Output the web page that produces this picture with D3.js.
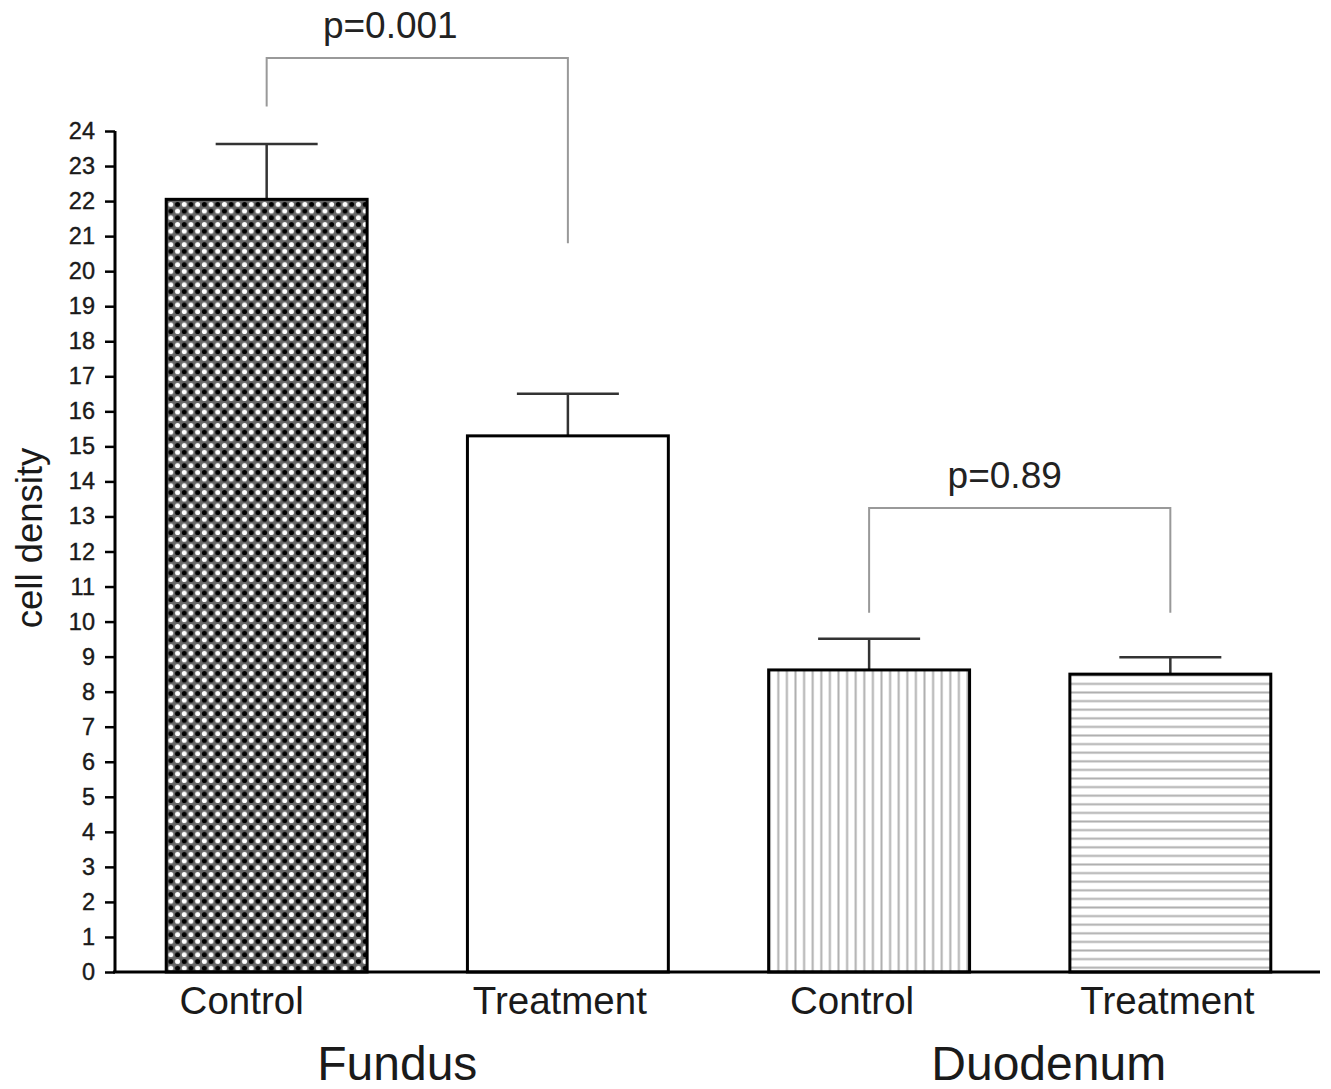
<!DOCTYPE html>
<html>
<head>
<meta charset="utf-8">
<script src="https://cdn.jsdelivr.net/npm/d3@7"></script>
<style>
  html, body { margin: 0; padding: 0; background: #fff; }
  svg { display: block; font-family: "Liberation Sans", Arial, Helvetica, sans-serif; }
</style>
</head>
<body>
<svg id="chart" width="1331" height="1089"></svg>
<script>
// ---- data ----
const barIds = ["Fundus-Control", "Fundus-Treatment", "Duodenum-Control", "Duodenum-Treatment"];
const barLabels = ["Control", "Treatment", "Control", "Treatment"];
const groupNames = ["Fundus", "Duodenum"];
const means = [22.05, 15.3, 8.62, 8.5];
const errors = [1.58, 1.2, 0.89, 0.48];
const patterns = ["checker", "none", "vlines", "hlines"];
const yTicks = d3.range(0, 25, 1);
const pLabels = ["p=0.001", "p=0.89"];
const bracketTop = [26.08, 13.24];
const bracketLeftEnd = [24.7, 10.25];
const bracketRightEnd = [20.8, 10.25];

// ---- layout (label nudges, px) ----
const tickLabelNudge = [-25, -8, -17, -3];
const groupLabelNudge = [-20, 29];
const pLabelNudge = [-27, -15];

const svg = d3.select("#chart");
const x = d3.scaleBand().domain(barIds).range([115, 1322]).paddingInner(0.333).paddingOuter(0.17);
const y = d3.scaleLinear().domain([0, 24]).range([972, 131]);

// ---- patterns ----
const defs = svg.append("defs");
const s = 13.4;
const ck = defs.append("pattern").attr("id", "checker").attr("patternUnits", "userSpaceOnUse")
  .attr("width", s).attr("height", s);
ck.append("rect").attr("width", s).attr("height", s).attr("fill", "#666");
[[s/4, s/4, "#000"], [3*s/4, 3*s/4, "#000"], [3*s/4, s/4, "#fff"], [s/4, 3*s/4, "#fff"]].forEach(([cx, cy, c]) => {
  ck.append("circle").attr("cx", cx).attr("cy", cy).attr("r", 2.5).attr("fill", c);
});
const vs = 8.6;
const vl = defs.append("pattern").attr("id", "vlines").attr("patternUnits", "userSpaceOnUse")
  .attr("width", vs).attr("height", 10);
vl.append("rect").attr("width", vs).attr("height", 10).attr("fill", "#fff");
vl.append("rect").attr("x", vs/2 - 1).attr("width", 2).attr("height", 10).attr("fill", "#b0b0b0");
const hl = defs.append("pattern").attr("id", "hlines").attr("patternUnits", "userSpaceOnUse")
  .attr("width", 10).attr("height", vs).attr("y", y(0));
hl.append("rect").attr("width", 10).attr("height", vs).attr("fill", "#fff");
hl.append("rect").attr("y", vs/2 - 1).attr("height", 2).attr("width", 10).attr("fill", "#b0b0b0");

// ---- error bars ----
const eb = svg.append("g").attr("stroke", "#333").attr("stroke-width", 2.5).attr("fill", "none");
barIds.forEach((id, i) => {
  const cx = x(id) + x.bandwidth() / 2;
  eb.append("line").attr("x1", cx).attr("x2", cx).attr("y1", y(means[i])).attr("y2", y(means[i] + errors[i]));
  eb.append("line").attr("x1", cx - 51).attr("x2", cx + 51).attr("y1", y(means[i] + errors[i])).attr("y2", y(means[i] + errors[i]));
});

// ---- bars ----
svg.append("g").selectAll("rect").data(barIds).join("rect")
  .attr("x", d => x(d))
  .attr("width", x.bandwidth())
  .attr("y", (d, i) => y(means[i]))
  .attr("height", (d, i) => y(0) - y(means[i]))
  .attr("fill", (d, i) => patterns[i] === "none" ? "#fff" : `url(#${patterns[i]})`)
  .attr("stroke", "#000")
  .attr("stroke-width", 3);

// ---- axes ----
const yAxis = svg.append("g").attr("transform", "translate(115,0)")
  .call(d3.axisLeft(y).tickValues(yTicks).tickSize(10).tickPadding(10).tickFormat(d3.format("d")));
yAxis.select(".domain").attr("stroke", "#000").attr("stroke-width", 3).attr("d", `M0,${y(24)}V${y(0)}`);
yAxis.selectAll(".tick line").attr("stroke", "#000").attr("stroke-width", 2.5);
yAxis.selectAll(".tick text").attr("font-size", 23.5).attr("fill", "#1a1a1a")
  .attr("stroke", "#1a1a1a").attr("stroke-width", 0.4)
  .attr("font-family", "Liberation Sans, Arial, sans-serif");

const xAxis = svg.append("g").attr("transform", `translate(0,${y(0)})`)
  .call(d3.axisBottom(x).tickSize(0).tickPadding(14).tickFormat((d, i) => barLabels[i]));
xAxis.select(".domain").attr("stroke", "#000").attr("stroke-width", 3).attr("d", "M113,0H1320");
xAxis.selectAll(".tick text").attr("font-size", 38.5).attr("fill", "#1a1a1a").attr("dy", "0.72em")
  .attr("dx", (d, i) => tickLabelNudge[i])
  .attr("font-family", "Liberation Sans, Arial, sans-serif");

// ---- group labels ----
groupNames.forEach((g, gi) => {
  const c = (x(barIds[gi*2]) + x(barIds[gi*2+1]) + x.bandwidth()) / 2;
  svg.append("text").attr("x", c + groupLabelNudge[gi]).attr("y", 1080)
    .attr("text-anchor", "middle").attr("font-size", 48).attr("fill", "#1a1a1a").text(g);
});

// ---- y label ----
svg.append("text").attr("transform", "translate(42,538) rotate(-90)")
  .attr("text-anchor", "middle").attr("font-size", 36.5).attr("fill", "#1a1a1a").text("cell density");

// ---- significance brackets ----
const br = svg.append("g").attr("stroke", "#999").attr("stroke-width", 2).attr("fill", "none");
[0, 1].forEach(k => {
  const xl = x(barIds[k*2]) + x.bandwidth() / 2;
  const xr = x(barIds[k*2+1]) + x.bandwidth() / 2;
  br.append("path").attr("d", `M${xl},${y(bracketLeftEnd[k])}V${y(bracketTop[k])}H${xr}V${y(bracketRightEnd[k])}`);
  svg.append("text").attr("x", (xl + xr) / 2 + pLabelNudge[k]).attr("y", y(bracketTop[k]) - 20)
    .attr("text-anchor", "middle").attr("font-size", 37).attr("fill", "#222").text(pLabels[k]);
});
</script>
</body>
</html>
